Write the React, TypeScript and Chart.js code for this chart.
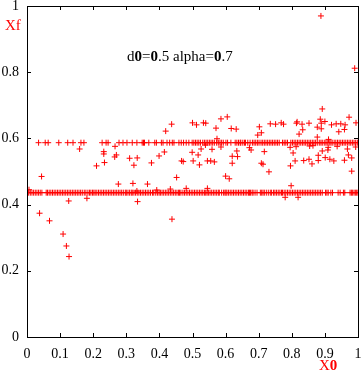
import React, { useEffect, useRef } from "react";
import { Chart, registerables } from "chart.js";

Chart.register(...registerables);

// Two dense horizontal bands of points
const LOWER_Y = 0.436;
const UPPER_Y = 0.587;

const lowerLineX = [
  0, 0.005, 0.01, 0.015, 0.02, 0.025, 0.03, 0.035, 0.04, 0.045,
  0.058, 0.062,
  0.067, 0.072, 0.077, 0.082, 0.087, 0.092, 0.097, 0.102, 0.107, 0.112, 0.117, 0.122, 0.127, 0.132, 0.137, 0.142, 0.147, 0.152, 0.157, 0.162, 0.167,
  0.173, 0.178, 0.184, 0.189, 0.193, 0.198, 0.202,
  0.206, 0.211, 0.216, 0.221, 0.226, 0.231, 0.236, 0.241, 0.246, 0.251, 0.256, 0.261, 0.266, 0.271, 0.276, 0.281, 0.286, 0.291,
  0.297, 0.3, 0.305, 0.31, 0.315, 0.318,
  0.323, 0.328, 0.333, 0.338, 0.343, 0.348, 0.353, 0.358, 0.363, 0.368, 0.373,
  0.379, 0.383, 0.389, 0.394, 0.399,
  0.403, 0.408, 0.413, 0.418, 0.423, 0.428, 0.433, 0.438, 0.443, 0.448, 0.453, 0.458, 0.461,
  0.465, 0.471,
  0.476, 0.481, 0.486, 0.491, 0.496, 0.501, 0.506, 0.511, 0.516, 0.521, 0.526, 0.531, 0.536,
  0.54, 0.544,
  0.548, 0.553, 0.558, 0.563, 0.568, 0.573, 0.578, 0.581,
  0.588, 0.594, 0.598, 0.601,
  0.604, 0.609, 0.614, 0.619, 0.624, 0.629, 0.634, 0.639, 0.644, 0.649, 0.654, 0.659, 0.664, 0.669, 0.672,
  0.675, 0.68, 0.683, 0.689, 0.695, 0.705, 0.709, 0.713, 0.717, 0.723, 0.729, 0.735, 0.739, 0.745,
  0.749, 0.754, 0.759, 0.764, 0.769, 0.772,
  0.777, 0.782, 0.787, 0.792, 0.797, 0.802,
  0.807, 0.812, 0.817, 0.822, 0.827, 0.832, 0.837, 0.842,
  0.847, 0.852, 0.857, 0.862, 0.867, 0.872, 0.877, 0.882, 0.887, 0.892,
  0.902, 0.906, 0.91, 0.918, 0.923, 0.94, 0.946, 0.956, 0.96,
  0.976, 0.98, 0.983, 0.988, 0.992, 0.996, 1.0,
];

const upperLineX = [
  0.035, 0.055, 0.064, 0.096, 0.123, 0.139, 0.163, 0.172, 0.227, 0.239, 0.245, 0.278, 0.29, 0.302, 0.318,
  0.332, 0.348, 0.352, 0.355, 0.368, 0.386, 0.391, 0.406, 0.411, 0.423, 0.431, 0.439, 0.444, 0.459, 0.466, 0.473, 0.481, 0.489,
  0.499, 0.504, 0.509, 0.514, 0.519, 0.524,
  0.531, 0.536, 0.541, 0.546, 0.551,
  0.556, 0.561, 0.566,
  0.573, 0.578, 0.583, 0.588, 0.593,
  0.601, 0.606, 0.616,
  0.629, 0.634, 0.639, 0.644, 0.646,
  0.652, 0.657, 0.66, 0.667, 0.674,
  0.681, 0.686, 0.691, 0.696, 0.701,
  0.707, 0.712, 0.717, 0.722, 0.727, 0.732,
  0.737, 0.742, 0.747, 0.752, 0.757, 0.762,
  0.772, 0.777, 0.782, 0.787,
  0.797, 0.802, 0.807, 0.812, 0.817, 0.822, 0.827, 0.832, 0.837, 0.842, 0.847, 0.852, 0.857,
  0.862, 0.867, 0.872, 0.877, 0.883, 0.888, 0.892, 0.898, 0.903, 0.907, 0.913, 0.918, 0.922,
  0.928, 0.933, 0.938, 0.943,
  0.948, 0.953, 0.958, 0.963, 0.968, 0.973, 0.978, 0.983, 0.988,
  0.993, 0.998,
];

// Scattered points off the two bands
const scatterX = [
  0.159, 0.232, 0.232, 0.21, 0.234, 0.266, 0.27, 0.265, 0.31, 0.323,
  0.044, 0.276, 0.32, 0.006, 0.126, 0.181, 0.364, 0.332, 0.392, 0.433,
  0.481, 0.334, 0.038, 0.068, 0.438, 0.109, 0.119, 0.127, 0.545, 0.798,
  0.78, 0.819, 0.437, 0.419, 0.5, 0.512, 0.533, 0.54, 0.586, 0.605,
  0.571, 0.617, 0.632, 0.574, 0.539, 0.586, 0.526, 0.559, 0.634, 0.499,
  0.517, 0.62, 0.636, 0.415, 0.399, 0.333, 0.376, 0.467, 0.472, 0.502,
  0.521, 0.545, 0.555, 0.566, 0.62, 0.452, 0.6, 0.611, 0.892, 0.886,
  0.889, 0.9, 0.973, 0.994, 0.702, 0.735, 0.751, 0.768, 0.775, 0.816,
  0.814, 0.831, 0.852, 0.877, 0.889, 0.92, 0.934, 0.948, 0.961, 0.959,
  0.942, 0.833, 0.822, 0.708, 0.697, 0.877, 0.911, 0.672, 0.677, 0.717,
  0.795, 0.813, 0.854, 0.864, 0.91, 0.937, 0.968, 0.993, 0.892, 0.909,
  0.804, 0.88, 0.971, 0.901, 0.915, 0.927, 0.981, 0.88, 0.852, 0.836,
  0.861, 0.81, 0.796, 0.959, 0.708, 0.713, 0.731, 0.981, 0.888, 0.99,
];
const scatterY = [
  0.568, 0.56, 0.553, 0.517, 0.527, 0.576, 0.55, 0.544, 0.54, 0.519,
  0.485, 0.462, 0.464, 0.445, 0.411, 0.419, 0.462, 0.441, 0.444, 0.447,
  0.449, 0.409, 0.374, 0.351, 0.356, 0.311, 0.275, 0.243, 0.449, 0.457,
  0.422, 0.422, 0.643, 0.622, 0.647, 0.641, 0.647, 0.646, 0.659, 0.665,
  0.631, 0.63, 0.628, 0.599, 0.58, 0.574, 0.568, 0.567, 0.562, 0.558,
  0.55, 0.546, 0.545, 0.559, 0.547, 0.541, 0.526, 0.532, 0.53, 0.532,
  0.52, 0.532, 0.532, 0.529, 0.525, 0.482, 0.486, 0.478, 0.689, 0.658,
  0.646, 0.651, 0.664, 0.647, 0.635, 0.644, 0.643, 0.647, 0.643, 0.65,
  0.646, 0.643, 0.646, 0.634, 0.629, 0.641, 0.644, 0.644, 0.641, 0.627,
  0.62, 0.626, 0.613, 0.617, 0.61, 0.604, 0.597, 0.572, 0.565, 0.56,
  0.573, 0.575, 0.577, 0.578, 0.573, 0.576, 0.568, 0.574, 0.562, 0.565,
  0.556, 0.549, 0.55, 0.542, 0.537, 0.532, 0.541, 0.533, 0.537, 0.533,
  0.523, 0.532, 0.517, 0.534, 0.525, 0.522, 0.499, 0.501, 0.97, 0.812,
];

const xTickStep = 0.1;
const yTickStep = 0.2;

const fmt = (v: number) => String(Math.round(v * 10) / 10);

const framePlugin = {
  id: "frameTicks",
  afterDraw(chart: any) {
    const { ctx, chartArea: a, scales } = chart;
    ctx.save();
    ctx.strokeStyle = "#000";
    ctx.lineWidth = 1;
    ctx.strokeRect(a.left + 0.5, a.top + 0.5, a.right - a.left, a.bottom - a.top);
    const L = 4;
    ctx.beginPath();
    scales.x.ticks.forEach((t: any) => {
      const px = Math.round(scales.x.getPixelForValue(t.value)) + 0.5;
      ctx.moveTo(px, a.bottom);
      ctx.lineTo(px, a.bottom - L);
      ctx.moveTo(px, a.top);
      ctx.lineTo(px, a.top + L);
    });
    scales.y.ticks.forEach((t: any) => {
      const py = Math.round(scales.y.getPixelForValue(t.value)) + 0.5;
      ctx.moveTo(a.left, py);
      ctx.lineTo(a.left + L, py);
      ctx.moveTo(a.right, py);
      ctx.lineTo(a.right - L, py);
    });
    ctx.stroke();
    ctx.restore();
  },
};

const zeroPad = (s: any) => {
  s.paddingLeft = 0;
  s.paddingRight = 0;
  s.paddingTop = 0;
  s.paddingBottom = 0;
};

export default function App() {
  const canvasRef = useRef<HTMLCanvasElement | null>(null);

  useEffect(() => {
    document.body.style.margin = "0";
    const canvas = canvasRef.current;
    if (!canvas) return;
    const pts = [
      ...lowerLineX.map((x) => ({ x, y: LOWER_Y })),
      ...upperLineX.map((x) => ({ x, y: UPPER_Y })),
      ...scatterX.map((x, i) => ({ x, y: scatterY[i] })),
    ];
    const font = { family: "'Liberation Serif', 'Times New Roman', serif", size: 14 };
    const chart = new Chart(canvas, {
      type: "scatter",
      data: {
        datasets: [
          {
            data: pts,
            pointStyle: "cross",
            pointRadius: 3,
            pointBorderWidth: 1,
            borderColor: "#ff0000",
            backgroundColor: "#ff0000",
            pointHoverRadius: 3,
          },
        ],
      },
      options: {
        animation: false,
        responsive: false,
        maintainAspectRatio: false,
        events: [],
        layout: { padding: { left: 0, top: 6, right: 2, bottom: 0 } },
        plugins: { legend: { display: false }, tooltip: { enabled: false }, title: { display: false } },
        scales: {
          x: {
            type: "linear",
            min: 0,
            max: 1,
            grid: { display: false, drawTicks: false },
            border: { display: false },
            ticks: { stepSize: xTickStep, padding: 9, color: "#000", font, maxRotation: 0, callback: (v: any) => fmt(Number(v)) },
            afterFit: (s: any) => { s.height = 35; zeroPad(s); },
          },
          y: {
            type: "linear",
            min: 0,
            max: 1,
            grid: { display: false, drawTicks: false },
            border: { display: false },
            ticks: { stepSize: yTickStep, padding: 8, color: "#000", font, callback: (v: any) => fmt(Number(v)) },
            afterFit: (s: any) => { s.width = 27; zeroPad(s); },
          },
        },
      },
      plugins: [framePlugin],
    });
    return () => chart.destroy();
  }, []);

  const serif = "'Liberation Serif', 'Times New Roman', serif";
  return (
    <div style={{ position: "relative", width: 362, height: 372, background: "#fff", overflow: "hidden" }}>
      <canvas ref={canvasRef} width={362} height={372} style={{ display: "block" }} />
      <div style={{ position: "absolute", left: 5, top: 16, color: "#ff0000", fontFamily: serif, fontSize: 15, lineHeight: "18px" }}>Xf</div>
      <div style={{ position: "absolute", left: 319, top: 356, color: "#ff0000", fontFamily: serif, fontSize: 15, lineHeight: "18px" }}>X<b>0</b></div>
      <div style={{ position: "absolute", left: 127, top: 47, color: "#000", fontFamily: serif, fontSize: 15, lineHeight: "18px", whiteSpace: "nowrap" }}>
        d<b>0</b>=<b>0</b>.5 alpha=<b>0</b>.7
      </div>
    </div>
  );
}
